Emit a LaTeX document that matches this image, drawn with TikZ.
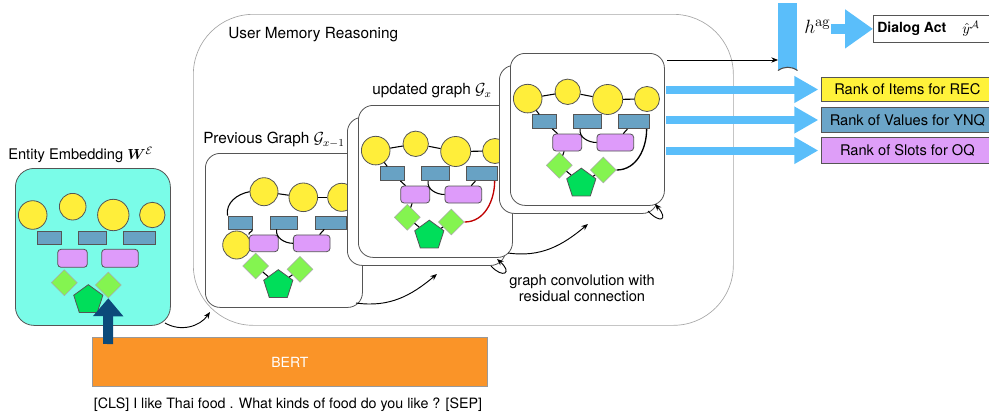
\documentclass[tikz,border=0pt]{standalone}
\usepackage{amsmath}
\usepackage[no-math]{fontspec}
\setmainfont{TeX Gyre Heros}
\usetikzlibrary{arrows.meta,shapes.geometric}
\definecolor{ylw}{HTML}{FFEE3A}
\definecolor{blu}{HTML}{68A2C4}
\definecolor{vio}{HTML}{DE9BFA}
\definecolor{lgr}{HTML}{84F450}
\definecolor{pgr}{HTML}{00DE5A}
\definecolor{cyb}{HTML}{7AFCE8}
\definecolor{org}{HTML}{FA9428}
\definecolor{lblu}{HTML}{5ABEFA}
\definecolor{dblu}{HTML}{0C4A7A}
\definecolor{gline}{HTML}{555555}
\definecolor{recc}{HTML}{FFF23A}
\definecolor{ynqc}{HTML}{6BA5C8}
\definecolor{oqc}{HTML}{DE9EF8}
\definecolor{resred}{HTML}{C00000}
\tikzset{
  pw/.style={minimum width=#1*0.75pt},
  ph/.style={minimum height=#1*0.75pt},
  yc/.style={circle, draw=gline, fill=ylw, line width=0.6pt, inner sep=0pt, minimum size=#1*1.5pt},
  br/.style={rectangle, draw=gline, fill=blu, line width=0.6pt, inner sep=0pt},
  vr/.style={rectangle, rounded corners=2.5pt, draw=gline, fill=vio, line width=0.6pt, inner sep=0pt},
  dm/.style={diamond, draw=gline!50, fill=lgr, line width=0.4pt, inner sep=0pt, minimum width=19.5pt, minimum height=19.5pt},
  pg/.style={regular polygon, regular polygon sides=5, draw=gline, fill=pgr, line width=0.6pt, inner sep=0pt, minimum size=23pt},
  edge/.style={draw=black, line width=0.8pt},
  gbox/.style={rectangle, rounded corners=11pt, draw=gline, line width=0.6pt, fill=white, inner sep=0pt, anchor=north west},
  arr/.style={-{Stealth[length=5pt,width=4pt]}, line width=0.7pt},
  fat/.style={draw=lblu, line width=6pt, -{Triangle[length=18pt,width=19pt]}},
  fatb/.style={draw=lblu, line width=7.5pt, -{Triangle[length=21pt,width=28pt]}},
  lab/.style={font=\fontsize{11.5}{13}\selectfont, inner sep=0pt, anchor=west},
  rank/.style={rectangle, draw=gline, line width=0.6pt, anchor=west, pw=172, font=\fontsize{11}{13}\selectfont, inner sep=0pt},
  gfull/.pic={
    \node[gbox, pw=158, ph=148] (-back) at (-11,12) {};
    \node[gbox, pw=154, ph=152] (-front) at (0,0) {};
    \node[yc=14.3] (-c1) at (17.7,45.6) {};
    \node[yc=12.7] (-c2) at (57.7,38.8) {};
    \node[yc=15] (-c3) at (97.7,46.5) {};
    \node[yc=12.5] (-c4) at (137,46) {};
    \node[br,pw=23.6,ph=13.8] (-r1) at (34.5,68.7) {};
    \node[br,pw=27.5,ph=13.8] (-r2) at (77.4,68.7) {};
    \node[br,pw=31.5,ph=13.8] (-r3) at (124,68.7) {};
    \node[vr,pw=29,ph=17] (-v1) at (57.2,89.5) {};
    \node[vr,pw=36.7,ph=17] (-v2) at (105.3,89.5) {};
    \node[dm] (-d1) at (49.3,112.3) {};
    \node[dm] (-d2) at (93.3,117) {};
    \node[pg] (-p) at (71.3,130.5) {};
    \draw[edge] (-c1) -- (-c2);
    \draw[edge] (-c2) -- (-c3);
    \draw[edge] (-c3) -- (-c4);
    \draw[edge] (-c1) -- (-r1);
    \draw[edge] (-r1) -- (-v1);
    \draw[edge] (-r2.-135) to[out=-100,in=180] (-v2.west);
    \draw[edge] (-r3) -- (-v2);
    \draw[edge] (-v1) -- (-d1);
    \draw[edge] (-d1) -- (-p);
    \draw[edge] (-p) -- (-d2);
    \draw[edge, draw=#1, line width=1pt] (-d2.east) to[out=0,in=-90] (-r3.-30);
  }
}
\begin{document}
\begin{tikzpicture}[x=0.75pt,y=-0.75pt]
\useasboundingbox (0,0) rectangle (989,418);

% outer reasoning box
\node[rectangle, rounded corners=45pt, draw=gray!70, line width=0.5pt, anchor=north west, pw=540, ph=311, inner sep=0pt] (umr) at (193,14) {};
\node[lab] (umrl) at (228,35) {User Memory Reasoning};

% entity embedding
\node[lab, font=\fontsize{11}{13}\selectfont] (entl) at (8,155) {Entity Embedding $\boldsymbol{W}^{\mathcal{E}}$};
\node[rectangle, rounded corners=14pt, draw=gline, line width=0.6pt, fill=cyb, anchor=north west, pw=155, ph=157, inner sep=0pt] (ent) at (15,168) {};
\node[yc=14.3] (e-c1) at (32.7,215) {};
\node[yc=13.3] (e-c2) at (72.7,206.7) {};
\node[yc=15.7] (e-c3) at (113.3,215) {};
\node[yc=12.7] (e-c4) at (152.3,215) {};
\node[br,pw=24.4,ph=13.3] (e-r1) at (49.5,237.7) {};
\node[br,pw=28.4,ph=13.3] (e-r2) at (92.5,237.7) {};
\node[br,pw=32.4,ph=13.3] (e-r3) at (139.5,237.7) {};
\node[vr,pw=29.6,ph=18] (e-v1) at (72.5,258.3) {};
\node[vr,pw=36.6,ph=18] (e-v2) at (120,258.3) {};
\node[dm] (e-d1) at (64.3,282.7) {};
\node[pg] (e-p) at (88.3,300) {};
\node[dm] (e-d2) at (108.3,285) {};

% previous graph
\node[lab] (prevl) at (203,140) {Previous Graph $\mathcal{G}_{x-1}$};
\node[gbox, pw=157, ph=154] (pv) at (205,153) {};
\node[yc=14] (p-c0) at (236.7,245) {};
\node[yc=14] (p-c1) at (264,191.7) {};
\node[yc=14.3] (p-c2) at (303.3,197.3) {};
\node[yc=14] (p-c3) at (341.7,197.3) {};
\node[br,pw=24.7,ph=13] (p-r1) at (240.3,222.5) {};
\node[br,pw=27,ph=13] (p-r2) at (283.5,222.5) {};
\node[br,pw=31,ph=13] (p-r3) at (330.5,222.5) {};
\node[vr,pw=29,ph=16.7] (p-v1) at (263.8,243.3) {};
\node[vr,pw=36.7,ph=16.7] (p-v2) at (311.7,243.3) {};
\node[dm] (p-d1) at (255.7,266) {};
\node[dm] (p-d2) at (300,269.3) {};
\node[pg] (p-p) at (278.3,285) {};
\draw[edge] (p-c1.west) to[out=190,in=100] (p-r1.north west);
\draw[edge] (p-c1) -- (p-c2);
\draw[edge] (p-c2) -- (p-c3);
\draw[edge] (p-r1.-30) to[out=-70,in=110] (p-v1.north west);
\draw[edge] (p-r2.-135) to[out=-100,in=180] (p-v2.west);
\draw[edge] (p-r3) -- (p-v2);
\draw[edge] (p-d1) -- (p-p);
\draw[edge] (p-p) -- (p-d2);

% updated graph
\node[lab] (updl) at (372,91) {updated graph $\mathcal{G}_{x}$};
\pic (u) at (358,105) {gfull=resred};
% third graph
\pic (t) at (510,53) {gfull=black};

% curved arrows
\coordinate (a1s) at (165,323);
\coordinate (a1e) at (210,312);
\draw[arr] (a1s) to[out=-30,in=235] (a1e);
\coordinate (a2s) at (356,303);
\coordinate (a2e) at (437,274);
\draw[arr] (a2s) to[out=-8,in=220] (a2e);
\coordinate (a3s) at (508,253);
\coordinate (a3e) at (588,224);
\draw[arr] (a3s) to[out=-8,in=220] (a3e);
\coordinate (l1s) at (491,266);
\coordinate (l1e) at (497,259);
\draw[arr] (l1s) .. controls (503,279) and (513,273) .. (l1e);
\coordinate (l2s) at (648,211);
\coordinate (l2e) at (655,204);
\draw[arr] (l2s) .. controls (660,224) and (669,220) .. (l2e);

\node[align=center, font=\fontsize{11}{12}\selectfont, inner sep=0pt] (gct) at (582,288) {graph convolution with\\residual connection};

% h^ag and dialog act
\node[rectangle, fill=lblu, anchor=north west, pw=19, ph=67, inner sep=0pt] (hag) at (778,3) {};
\fill[white] (hag.south west) to[bend left=35] (hag.south east) -- cycle;
\draw[line width=0.8pt, black!70] (hag.south west) to[bend left=35] (hag.south east);
\coordinate (ts) at (667,60);
\draw[arr, line width=0.6pt] (ts) -- (ts -| hag.west);
\node[inner sep=0pt, anchor=west, font=\fontsize{15}{16}\selectfont] (hagt) at (804,27) {$h^{\mathrm{ag}}$};
\node[rectangle, draw=gline, line width=0.6pt, fill=white, anchor=north west, pw=130, ph=27, inner sep=0pt] (da) at (873,15) {};
\draw[fatb] (hagt.east |- da.west) -- (da.west);
\node[inner sep=0pt, anchor=west, font=\fontsize{10.5}{12}\selectfont\bfseries] (dat) at (877,28.5) {Dialog Act};
\node[inner sep=0pt, anchor=west, font=\fontsize{11}{12}\selectfont] (das) at (962,28.5) {$\hat{y}^{\mathcal{A}}$};

% rank boxes
\node[rank, fill=recc, ph=24.5] (rec) at (821,89.5) {Rank of Items for REC};
\node[rank, fill=ynqc, ph=25] (ynq) at (821,120) {Rank of Values for YNQ};
\node[rank, fill=oqc, ph=25.6] (oq) at (821,150.5) {Rank of Slots for OQ};
\coordinate (s1) at (666,89.5);
\coordinate (s2) at (666,120);
\coordinate (s3) at (666,150.5);
\draw[fat, shorten >=2pt] (s1) -- (s1 -| rec.west);
\draw[fat, shorten >=2pt] (s2) -- (s2 -| ynq.west);
\draw[fat, shorten >=2pt] (s3) -- (s3 -| oq.west);

% BERT
\node[rectangle, draw=gray!80, line width=0.6pt, fill=org, anchor=north west, pw=395, ph=49, inner sep=0pt, text=white, font=\fontsize{10.5}{12}\selectfont] (bert) at (92,337) {BERT};
\node[inner sep=0pt, font=\fontsize{10.7}{13}\selectfont] (sent) at (288,405) {[CLS] I like Thai food . What kinds of food do you like ? [SEP]};
\coordinate (ba) at (108,344);
\draw[draw=dblu, line width=7.5pt, -{Triangle[length=13.5pt,width=22pt]}] (ba) -- (e-d2.south);
\end{tikzpicture}
\end{document}
